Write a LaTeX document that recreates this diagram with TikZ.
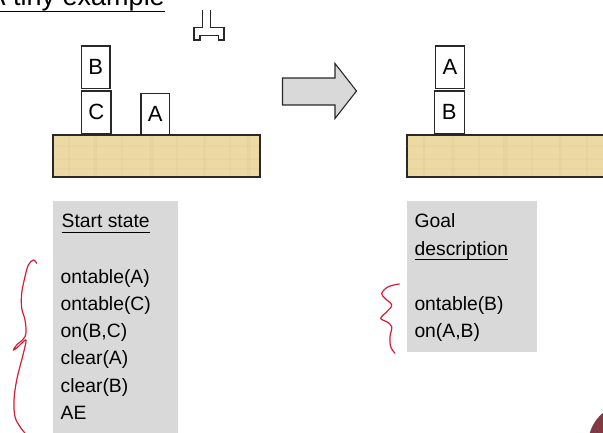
\documentclass[tikz,border=0pt]{standalone}
\usepackage{fontspec}
\setmainfont{Liberation Sans}
\definecolor{tablewood}{RGB}{236,217,164}
\definecolor{woodgrain}{RGB}{210,186,128}
\definecolor{boxgray}{RGB}{217,217,217}
\definecolor{inkred}{RGB}{212,28,52}
\definecolor{outline}{RGB}{40,40,40}
\definecolor{cornerdot}{RGB}{128,58,70}
\begin{document}
\begin{tikzpicture}[x=1pt,y=-1pt,
  block/.style={draw=outline, line width=1.3pt, fill=white, inner sep=0pt,
    font=\fontsize{22}{22}\selectfont},
  tabletop/.style={draw=outline, line width=1.5pt, fill=tablewood, inner sep=0pt},
  fact/.style={anchor=base west, inner sep=0pt, font=\fontsize{19.3}{23}\selectfont},
  hand/.style={draw=inkred, line width=1.2pt, line cap=round, line join=round}
]
\clip (0,0) rectangle (603,432);
\fill[white] (0,0) rectangle (603,432);

% heading
\node[anchor=base east, inner sep=0pt, font=\fontsize{27}{27}\selectfont] (title) at (165,5) {A tiny example};
\draw[line width=1.5pt] ([yshift=-6.5pt]title.base west) -- ([yshift=-6.5pt]title.base east);

% gripper
\draw[outline, line width=1.1pt, line join=miter]
  (202.3,10) -- (202.3,27.7) -- (194,27.7) -- (194,40) -- (200,40) -- (200,35.5)
  -- (218.3,35.5) -- (218.3,40) -- (224,40) -- (224,27.7) -- (210.7,27.7) -- (210.7,10);

% tables with a faint wood grain
\node[tabletop, minimum width=206pt, minimum height=41.7pt] (tableL) at (156.3,155.9) {};
\node[tabletop, minimum width=220pt, minimum height=41.7pt, anchor=west] (tableR) at (406.7,155.9) {};
\begin{scope}
  \clip (tableL.south west) rectangle (tableL.north east);
  \foreach \x/\w in {68/2,93/4,121/2,149/5,176/2,203/3,229/2,247/4}
    \fill[woodgrain, opacity=0.14] (\x,136) rectangle (\x+\w,176);
  \foreach \y in {145,158,168}
    \fill[woodgrain, opacity=0.10] (54,\y) rectangle (259,\y+2);
\end{scope}
\begin{scope}
  \clip (tableR.south west) rectangle (tableR.north east);
  \foreach \x/\w in {423/2,451/4,478/2,503/5,531/2,559/3,586/2}
    \fill[woodgrain, opacity=0.14] (\x,136) rectangle (\x+\w,176);
  \foreach \y in {145,158,168}
    \fill[woodgrain, opacity=0.10] (407,\y) rectangle (603,\y+2);
\end{scope}
\draw[outline, line width=1.5pt] (tableL.south west) rectangle (tableL.north east);
\draw[outline, line width=1.5pt] (tableR.south west) rectangle (tableR.north east);

% start configuration
\node[block, minimum width=28.7pt, minimum height=42.3pt] (blkB) at (95.7,67.2) {B};
\node[block, minimum width=29.7pt, minimum height=42.3pt] (blkC) at (96.2,112.2) {C};
\node[block, minimum width=28.3pt, minimum height=41.7pt] (blkA) at (155.2,114.2) {A};

% goal configuration
\node[block, minimum width=28.6pt, minimum height=42.3pt] (goalA) at (450,67.2) {A};
\node[block, minimum width=30pt, minimum height=42.3pt] (goalB) at (449.3,112.2) {B};

% transition arrow
\draw[outline, fill=boxgray, line width=1.1pt, line join=miter]
  (282.5,78) -- (335,78) -- (335,63.5) -- (356.5,91) -- (335,118.5) -- (335,105)
  -- (282.5,105) -- cycle;

% start state panel
\fill[boxgray] (53.3,201) rectangle (178.3,440);
\node[fact] (ss) at (61.5,227.5) {Start state};
\draw[line width=1.2pt] ([yshift=-5pt]ss.base west) -- ([yshift=-5pt]ss.base east);
\node[fact] (s1) at (60.5,283)   {ontable(A)};
\node[fact] (s2) at (60.5,310.3) {ontable(C)};
\node[fact] (s3) at (60.5,337.6) {on(B,C)};
\node[fact] (s4) at (60.5,364.9) {clear(A)};
\node[fact] (s5) at (60.5,392.2) {clear(B)};
\node[fact] (s6) at (60.5,419.5) {AE};

% goal panel
\fill[boxgray] (406.7,201) rectangle (536.7,351.7);
\node[fact] (g0) at (414.5,227) {Goal};
\node[fact] (gd) at (414.5,255) {description};
\draw[line width=1.2pt] ([yshift=-4.7pt]gd.base west) -- ([yshift=-4.7pt]gd.base east);
\node[fact] (g1) at (414.3,310.3) {ontable(B)};
\node[fact] (g2) at (414.3,337.6) {on(A,B)};

% handwritten braces
\draw[hand] plot[smooth, tension=0.6] coordinates {
  (36.7,263.3) (33.3,260) (28.3,265) (25,276.7) (21.7,293) (21.7,308) (25,320)
  (26,333) (23.3,339) (16.7,345) (13.3,350) (16.7,348) (23.3,341.7) (26,340)
  (25,346.7) (21.7,360) (16.7,380) (14,400) (15,416.7) (20,426.7) (25,433)};
\draw[hand] plot[smooth, tension=0.6] coordinates {
  (399.3,284) (388.3,286.7) (381.7,293.3) (385,298.3) (391.7,305) (386.7,311.7)
  (380.7,318.3) (386.7,321.7) (391.7,326.7) (390,336.7) (390.7,346.7) (395,353.3)};

% corner marker
\fill[cornerdot] (630,445) circle (42);
\end{tikzpicture}
\end{document}
